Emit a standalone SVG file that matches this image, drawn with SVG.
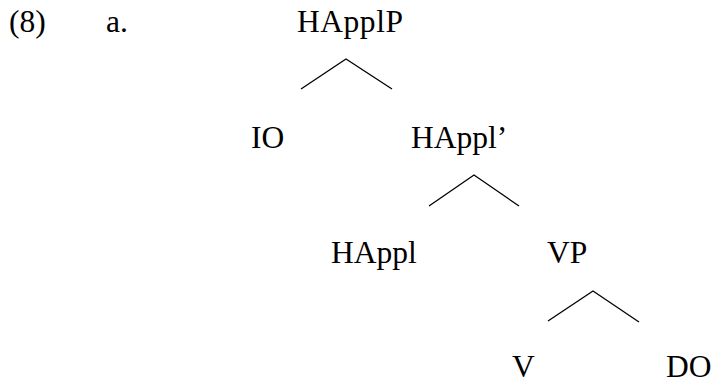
<svg xmlns="http://www.w3.org/2000/svg" width="712" height="387" viewBox="0 0 712 387">
<style>
text{font-family:"Liberation Serif","Times New Roman",serif;font-size:31.5px;fill:#000}
.e{stroke:#000;stroke-width:1.3;fill:none}
</style>
<rect width="712" height="387" fill="#fff"/>
<text x="9" y="32">(8)</text>
<text x="106" y="32">a.</text>
<g id="n-happlp"><text x="297" y="32" textLength="106" lengthAdjust="spacing">HApplP</text></g>
<g id="n-io"><text x="251" y="148">IO</text></g>
<g id="n-happlbar"><text x="411" y="148">HAppl’</text></g>
<g id="n-happl"><text x="331" y="263">HAppl</text></g>
<g id="n-vp"><text x="547" y="263">VP</text></g>
<g id="n-v"><text x="512" y="377">V</text></g>
<g id="n-do"><text x="666" y="377">DO</text></g>
<g id="connectors">
<polyline class="e" points="301,89 346,59 392,89"/>
<polyline class="e" points="429,206 474,175 519,206"/>
<polyline class="e" points="548,321 593,291 639,322"/>
</g>
</svg>
